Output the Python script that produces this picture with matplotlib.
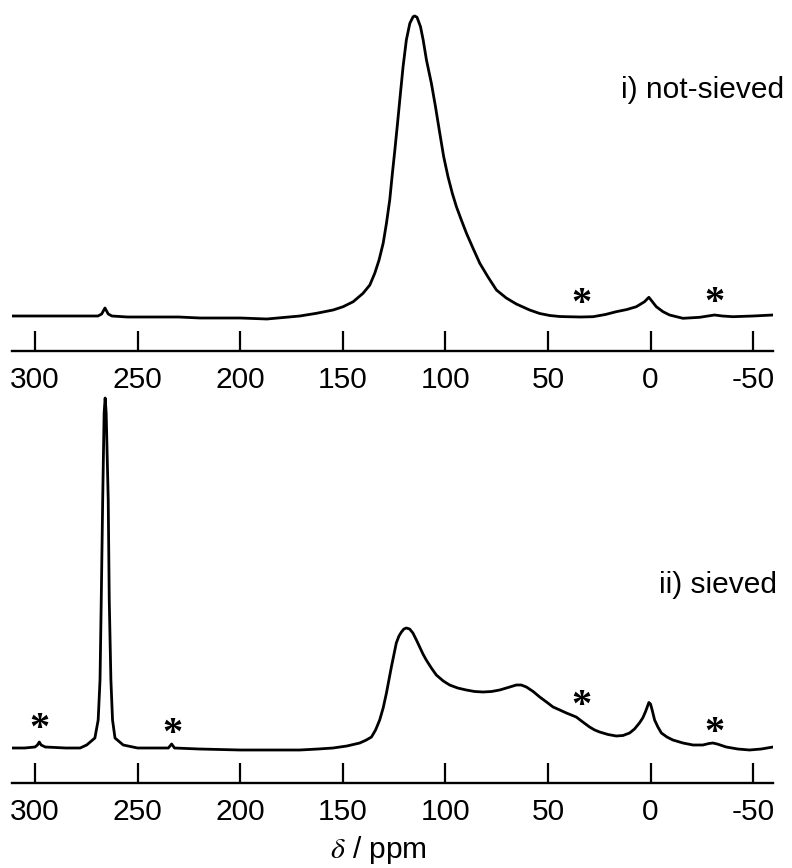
import matplotlib
matplotlib.use('Agg')
import matplotlib.pyplot as plt

# ---------------- data ----------------
tick_values = [300, 250, 200, 150, 100, 50, 0, -50]
tick_labels = ['300', '250', '200', '150', '100', '50', '0', '-50']

# i) not-sieved spectrum: chemical shift (ppm) and intensity (a.u.)
top_ppm = [311.2, 300, 288, 275, 269.3, 267.5, 265.9, 264.3, 262.5, 255, 244, 230,
           219.6, 200, 187, 170.9, 162.8, 154.7, 149.8, 144.9, 140.1, 136.8, 134.4,
           132.3, 130.3, 128.7, 127.1, 125.8, 124.6, 123.3, 122.2, 120.6, 119.0,
           117.3, 115.7, 114.9, 113.8, 112.1, 110.8, 109.2, 106.8, 104.8, 102.7,
           100.8, 98.7, 96.6, 94.6, 92.2, 89.7, 86.5, 83.2, 79.2, 75.1, 70.3,
           65.4, 58.9, 54.0, 49.1, 44.3, 41.0, 34.0, 28.0, 22.0, 16.7, 11.5, 6.9,
           2.9, 0.8, -0.9, -2.8, -6.1, -9.3, -15.8, -24.0, -28.0, -31.2, -35.0,
           -40.1, -50.0, -59.7]
top_int = [0, 0, 0, 0, 0, 2, 8, 2, 0, -1, -1, -1,
           -2, -2, -3, 0, 2.7, 6, 9.3, 14.3, 22.7, 31, 42.7,
           56, 72.7, 92.7, 116, 142.7, 166, 192.7, 216, 249.3, 276,
           292.7, 299.3, 300, 298.7, 289.3, 276, 256, 232.7, 209.3, 182.7,
           159.3, 139.3, 122.7, 109.3, 96, 82.7, 67.7, 52.7, 39, 26, 18,
           12, 6, 2.5, 0.5, -0.5, -0.7, -1, -0.7, 1.5, 4.3, 6.5, 9.3,
           14.3, 18.7, 14.3, 9.3, 4.3, 1, -2.3, -1.3, 0, 1, 0,
           -0.7, 0, 1]

# ii) sieved spectrum
bot_ppm = [311.2, 305, 300, 298.8, 297.9, 297.0, 295, 285, 278, 274.8, 270.8, 269.2,
           268.3, 267.7, 267.0, 266.3, 265.8, 265.3, 264.3, 263.8, 263.0, 262.2,
           261.0, 257.0, 250, 240, 235, 233.4, 232, 220, 200, 185, 170.9, 162,
           154.7, 148, 141.7, 138.5, 136.0, 134.0, 132.0, 130.3, 128.7, 127.5,
           126.3, 125.0, 123.9, 122.6, 121.4, 120.2, 119.0, 117.4, 115.8, 114.1,
           112.5, 110.9, 109.3, 106.8, 104.4, 101.0, 97.9, 94.0, 89.8, 85.7, 81.6,
           77.5, 73.5, 69.4, 65.4, 63.0, 60.5, 57.2, 54.0, 50.7, 47.5, 44.2, 41.0,
           38.6, 36.2, 33.0, 29.7, 27.2, 24.8, 20.7, 16.7, 13.4, 10.2, 7.8, 5.4,
           3.8, 2.5, 1.6, 0.8, 0.0, -0.8, -2.0, -3.6, -5.3, -8.0, -10.9, -15.8,
           -20.7, -25.5, -28.5, -30.4, -32.5, -36.9, -42.5, -48.3, -54.0, -59.7]
bot_int = [0, 0, 1, 3, 6, 3, 1, 0, 0, 3, 10, 28,
           68, 148, 248, 335, 350, 335, 248, 148, 68, 28,
           10, 3, 0, 0, 0, 4, 0, -1, -2, -2, -2, -1,
           0, 2, 5, 8, 11, 18, 28, 40, 55, 68,
           81, 94, 105, 112, 116, 119, 120, 119, 115, 108,
           101, 94, 88, 80, 73, 67, 63, 60, 58, 56.5, 56,
           56.5, 58, 60.5, 63, 63, 61, 56.5, 51, 46, 41, 38, 35,
           33, 31, 26, 21, 18, 16, 13.5, 12, 12.5, 15, 19, 25,
           30, 36, 41, 45.5, 44, 38, 28, 21, 15, 11, 8, 5,
           3, 3, 4.5, 5, 4, 1, -1, -2, -1, 1]

# spinning side band markers (ppm, intensity)
top_star_ppm = [33.7, -31.2]
top_star_int = [18, 19]
bot_star_ppm = [297.9, 233.1, 33.7, -31.2]
bot_star_int = [25, 20, 48, 21]

# ---------------- figure ----------------
plt.rcParams['font.family'] = ['Liberation Sans', 'DejaVu Sans']
plt.rcParams['mathtext.fontset'] = 'stix'

W, H = 792, 868
FS = 21.5
fig = plt.figure(figsize=(W / 100, H / 100), dpi=100)
ax1 = fig.add_axes([12 / W, 1 - 351 / H, 761 / W, 351 / H])
ax2 = fig.add_axes([12 / W, 1 - 783 / H, 761 / W, 393 / H])

panels = [
    (ax1, top_ppm, top_int, (-35, 316), top_star_ppm, top_star_int),
    (ax2, bot_ppm, bot_int, (-35, 358), bot_star_ppm, bot_star_int),
]
for ax, ppm, inten, ylim, sp, si in panels:
    ax.plot(ppm, inten, color='black', lw=2.0, solid_joinstyle='round')
    ax.set_xlim(311.2, -59.7)
    ax.set_ylim(*ylim)
    for s in ['top', 'left', 'right']:
        ax.spines[s].set_visible(False)
    ax.spines['bottom'].set_linewidth(1.7)
    ax.set_yticks([])
    ax.set_xticks(tick_values)
    ax.set_xticklabels(tick_labels)
    ax.tick_params(axis='x', direction='in', length=14.4, width=1.6,
                   pad=11, labelsize=FS)
    ax.patch.set_visible(False)
    for p, i in zip(sp, si):
        ax.annotate('*', (p, i), xytext=(0, -5), textcoords='offset points',
                    ha='center', va='center', fontsize=29, fontweight='bold',
                    family=['Liberation Serif', 'DejaVu Serif'])

fig.text(784 / W, 1 - 90 / H, 'i) not-sieved', ha='right', va='center',
         fontsize=FS)
fig.text(777 / W, 1 - 585 / H, 'ii) sieved', ha='right', va='center',
         fontsize=FS)
fig.text(378 / W, 1 - 850 / H, r'$\delta$ / ppm', ha='center', va='center',
         fontsize=FS)

fig.savefig('out.png', dpi=100)
